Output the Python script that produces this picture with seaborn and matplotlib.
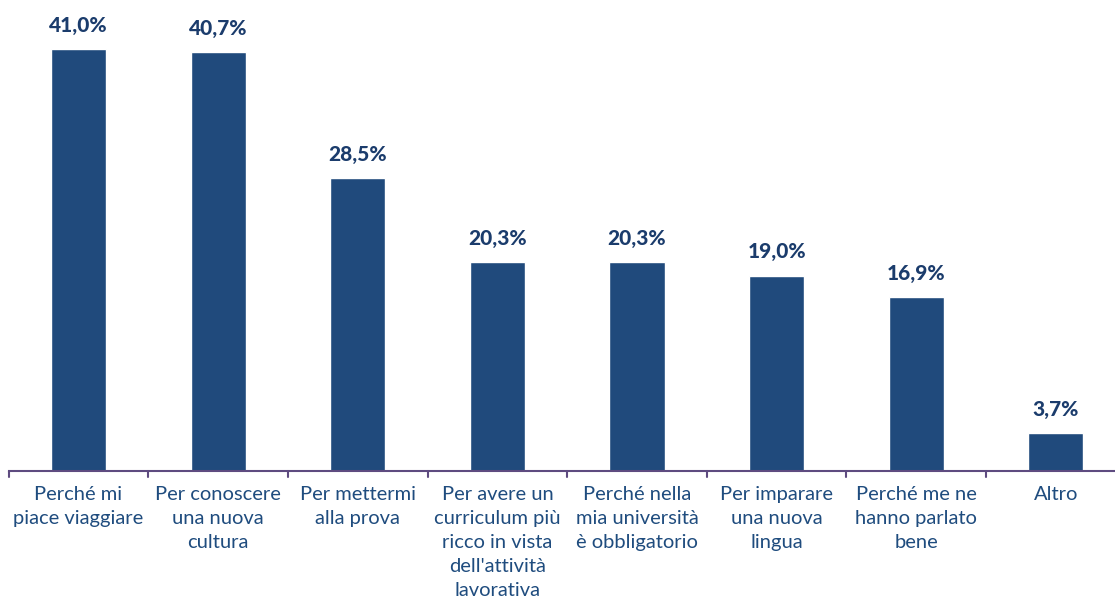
import matplotlib
matplotlib.use("Agg")
import matplotlib.pyplot as plt
import seaborn as sns
import pandas as pd

categorie = [
    "Perché mi\npiace viaggiare",
    "Per conoscere\nuna nuova\ncultura",
    "Per mettermi\nalla prova",
    "Per avere un\ncurriculum più\nricco in vista\ndell'attività\nlavorativa",
    "Perché nella\nmia università\nè obbligatorio",
    "Per imparare\nuna nuova\nlingua",
    "Perché me ne\nhanno parlato\nbene",
    "Altro",
]
percentuali = [41.0, 40.7, 28.5, 20.3, 20.3, 19.0, 16.9, 3.7]
etichette = ["41,0%", "40,7%", "28,5%", "20,3%", "20,3%", "19,0%", "16,9%", "3,7%"]

df = pd.DataFrame({"Motivo": categorie, "Valore": percentuali})

sns.set_style("white")
plt.rcParams["font.family"] = ["Lato", "DejaVu Sans"]

blu = "#204A7C"
testo = "#1F4C7E"
asse = "#5E4B80"

fig = plt.figure(figsize=(11.15, 6.01), dpi=100)
ax = fig.add_axes([8.7 / 1115, 130 / 601, 1117 / 1115, 471 / 601])
sns.barplot(x="Motivo", y="Valore", data=df, color=blu, width=0.395, ax=ax,
            saturation=1)

ax.set_ylim(0, 45.8)
ax.set_xlim(-0.5, len(categorie) - 0.5)
for i, (v, t) in enumerate(zip(percentuali, etichette)):
    ax.text(i, v + 1.4, t, ha="center", va="bottom", fontsize=15,
            fontweight="black", color="#1B3C6C")

ax.set_xlabel("")
ax.set_ylabel("")
ax.set_yticks([])
ax.set_xticks(range(len(categorie)))
ax.set_xticklabels(categorie, fontsize=14.5, color=testo, linespacing=1.5)
ax.tick_params(axis="x", length=0, pad=11)
for pos in [p - 0.5 for p in range(len(categorie) + 1)]:
    ax.plot([pos, pos], [0, -0.55], color=asse, lw=1.5, clip_on=False)

for s in ["top", "right", "left"]:
    ax.spines[s].set_visible(False)
ax.spines["bottom"].set_color(asse)
ax.spines["bottom"].set_linewidth(1.5)

fig.savefig("out.png", dpi=100)
